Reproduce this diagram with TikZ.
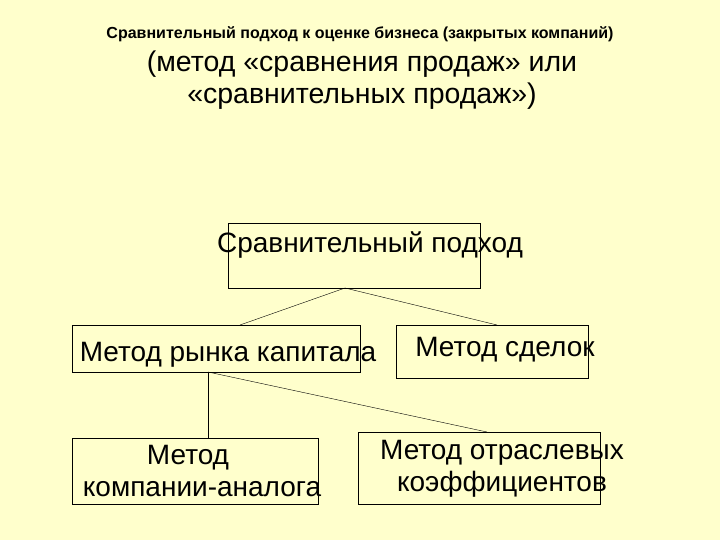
\documentclass[tikz,border=0pt]{standalone}
\usepackage{fontspec}
\setmainfont{Liberation Sans}
\tikzset{
    frame box/.style={draw=black, thin, rectangle, inner sep=0pt},
    box text/.style={font=\fontsize{28}{32}\selectfont, align=center, inner sep=0pt},
}
\begin{document}
\begin{tikzpicture}[x=1pt,y=-1pt]
\fill[fill={rgb,255:red,255;green,255;blue,204}] (0,0) rectangle (720,540);
\useasboundingbox (0,0) rectangle (720,540);

\node[font=\fontsize{16}{18}\selectfont\bfseries] at (360,34) (title) {Сравнительный подход к оценке бизнеса (закрытых компаний)};
\node[font=\fontsize{28.5}{32}\selectfont, align=center] at (362,80) (subtitle) {(метод «сравнения продаж» или\\«сравнительных продаж»)};

% boxes
\node[frame box, minimum width=252, minimum height=65] at (354,255.5) (top) {};
\node[frame box, minimum width=288, minimum height=47] at (216,348.5) (market) {};
\node[frame box, minimum width=192, minimum height=53] at (492,351.5) (deals) {};
\node[frame box, minimum width=246, minimum height=66] at (195,471) (analog) {};
\node[frame box, minimum width=242, minimum height=72] at (479,468) (ratios) {};

% texts
\node[box text] at (370,245) (topText) {Сравнительный подход};
\node[box text] at (228,355) (marketText) {Метод рынка капитала};
\node[box text] at (505,350) (dealsText) {Метод сделок};
\node[box text] at (202,471) (analogText) {\hspace*{-28pt}Метод\\компании-аналога};
\node[box text] at (502,469) (ratiosText) {Метод отраслевых\\коэффициентов};

% connectors
\coordinate (topFoot) at (345,288);
\coordinate (marketFoot) at (208,372);
\draw (topFoot) -- (240,325);
\draw (topFoot) -- (497,325);
\draw (marketFoot) -- (marketFoot |- analog.north);
\draw (marketFoot) -- (487,432);
\end{tikzpicture}
\end{document}
